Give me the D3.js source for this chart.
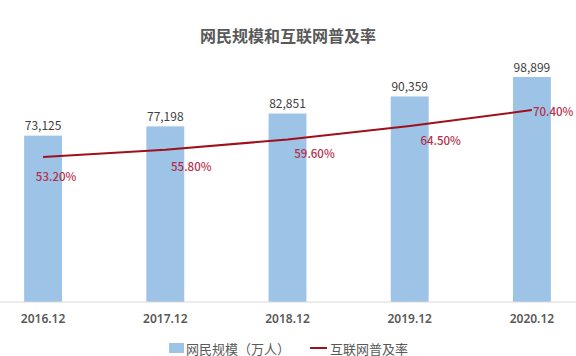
<!DOCTYPE html>
<html>
<head>
<meta charset="utf-8">
<script src="https://cdn.jsdelivr.net/npm/d3@7"></script>
<style>
  body { margin: 0; background: #fff; }
  svg { display: block; font-family: "Noto Sans CJK SC", "Noto Sans", sans-serif; }
</style>
</head>
<body>
<div class="canvas"></div>
<script>
// data
const periods = ['2016.12', '2017.12', '2018.12', '2019.12', '2020.12'];
const users = [73125, 77198, 82851, 90359, 98899];      // 万人
const penetration = [53.2, 55.8, 59.6, 64.5, 70.4];     // %

// percent label offsets (manual placement, like the excel original)
const pctOffset = [[13, 19, 'middle'], [26, 16, 'middle'], [27, 14, 'middle'], [31, 14, 'middle'], [1, 1, 'start']];

const width = 576, height = 356;
const baseY = 302, topY = 62;

const svg = d3.select('.canvas').append('svg')
    .attr('width', width)
    .attr('height', height);

// title
svg.append('text')
    .attr('x', width / 2)
    .attr('y', 35)
    .attr('text-anchor', 'middle')
    .attr('dominant-baseline', 'central')
    .attr('fill', '#595959')
    .style('font-size', '16px')
    .style('font-weight', 700)
    .text('网民规模和互联网普及率');

// scales
const x = d3.scaleBand()
    .domain(periods)
    .range([-18, 593])
    .paddingInner(0.69)
    .paddingOuter(0.345);

const y = d3.scaleLinear().domain([0, 105500]).range([baseY, topY]);
const yPct = d3.scaleLinear().domain([0, 88]).range([baseY, topY]);

// bars
svg.append('g').selectAll('rect')
    .data(users)
    .join('rect')
    .attr('x', (d, i) => x(periods[i]))
    .attr('y', d => y(d))
    .attr('width', x.bandwidth())
    .attr('height', d => baseY - y(d))
    .attr('fill', '#9dc3e6');

// bar values
svg.append('g').selectAll('text')
    .data(users)
    .join('text')
    .attr('x', (d, i) => x(periods[i]) + x.bandwidth() / 2)
    .attr('y', d => y(d) - 11)
    .attr('text-anchor', 'middle')
    .attr('dominant-baseline', 'central')
    .attr('fill', '#404040')
    .style('font-size', '12px')
    .text(d => d3.format(',')(d));

// x axis
const xAxis = svg.append('g')
    .attr('transform', `translate(0,${baseY})`)
    .call(d3.axisBottom(x).tickSize(0).tickPadding(12));
xAxis.select('.domain').remove();
xAxis.append('line')
    .attr('x1', 0).attr('x2', width)
    .attr('stroke', '#d9d9d9');
xAxis.selectAll('text')
    .attr('fill', '#595959')
    .style('font-size', '12px')
    .style('font-weight', 600)
    .style('font-family', '"Noto Sans", sans-serif');

// line
const cx = i => x(periods[i]) + x.bandwidth() / 2;
const line = d3.line()
    .x((d, i) => cx(i))
    .y(d => yPct(d));

svg.append('path')
    .datum(penetration)
    .attr('d', line)
    .attr('fill', 'none')
    .attr('stroke', '#a0101c')
    .attr('stroke-width', 2);

// percent labels
svg.append('g').selectAll('text')
    .data(penetration)
    .join('text')
    .attr('x', (d, i) => cx(i) + pctOffset[i][0])
    .attr('y', (d, i) => yPct(d) + pctOffset[i][1])
    .attr('text-anchor', (d, i) => pctOffset[i][2])
    .attr('dominant-baseline', 'central')
    .attr('fill', '#b5304a')
    .style('font-size', '11.5px')
    .style('font-weight', 500)
    .text(d => d.toFixed(2) + '%');

// legend
const legend = svg.append('g').attr('transform', 'translate(169,348)');
legend.append('rect')
    .attr('x', 0).attr('y', -5)
    .attr('width', 15).attr('height', 10)
    .attr('fill', '#9dc3e6');
legend.append('text')
    .attr('x', 17).attr('y', 0)
    .attr('dominant-baseline', 'central')
    .attr('fill', '#595959')
    .style('font-size', '13px')
    .text('网民规模（万人）');
legend.append('line')
    .attr('x1', 141).attr('x2', 158)
    .attr('stroke', '#a0101c')
    .attr('stroke-width', 2);
legend.append('text')
    .attr('x', 161).attr('y', 0)
    .attr('dominant-baseline', 'central')
    .attr('fill', '#595959')
    .style('font-size', '13px')
    .text('互联网普及率');
</script>
</body>
</html>
